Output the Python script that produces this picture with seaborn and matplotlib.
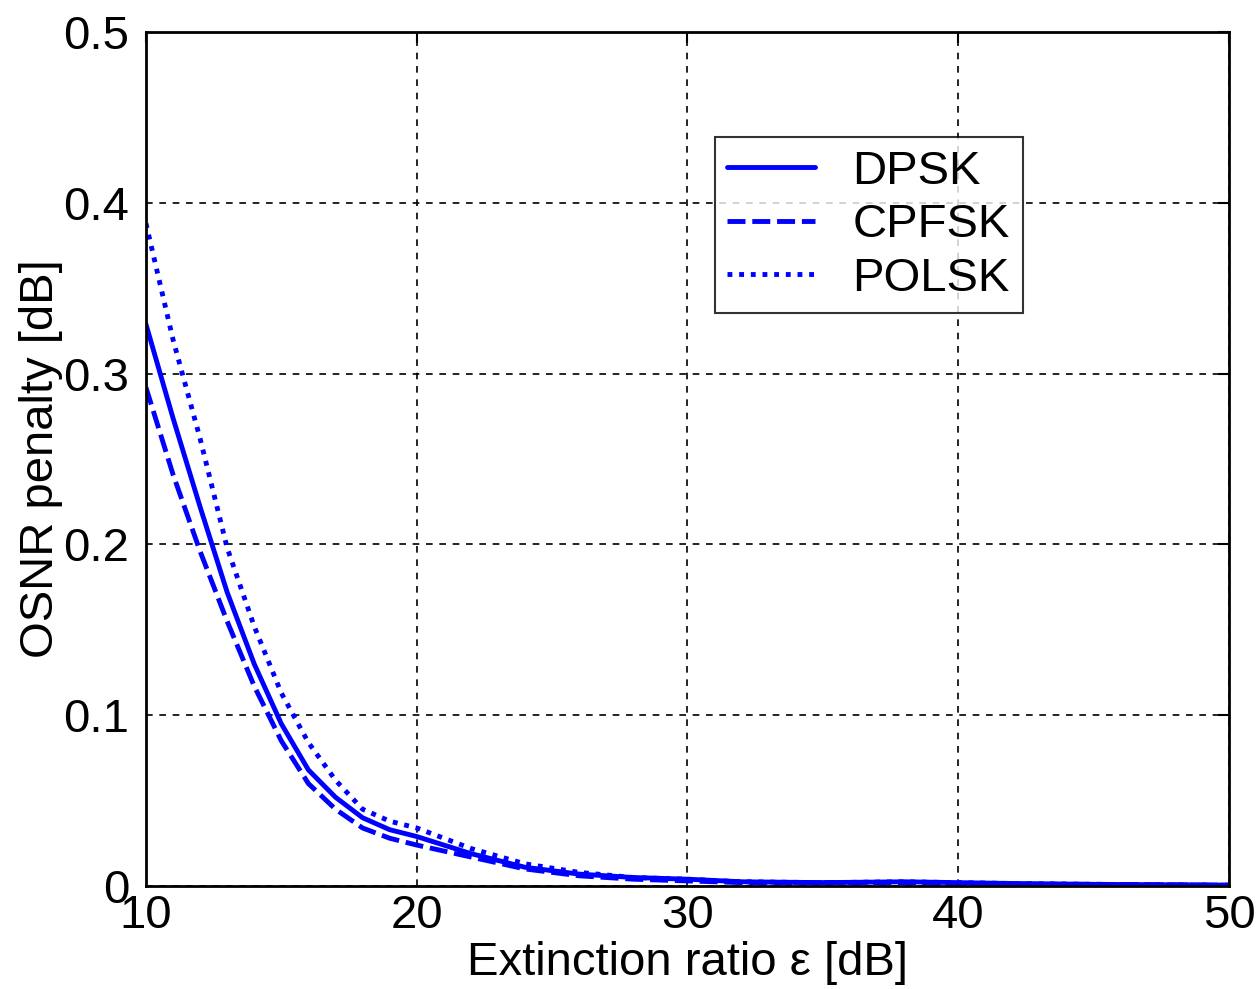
import matplotlib
matplotlib.use("Agg")
import matplotlib.pyplot as plt
import seaborn as sns
import pandas as pd

# Data
extinction_db = [10, 11, 12, 13, 14, 15, 16, 17, 18, 19, 20, 22, 24, 26, 28, 30, 32, 35, 38, 40, 42, 45, 50]
dpsk = [0.329, 0.274, 0.222, 0.172, 0.130, 0.095, 0.068, 0.052, 0.040, 0.033, 0.029, 0.019, 0.011, 0.007,
        0.005, 0.004, 0.0025, 0.002, 0.0025, 0.002, 0.0015, 0.001, 0.0005]
cpfsk = [0.292, 0.241, 0.196, 0.155, 0.117, 0.085, 0.060, 0.045, 0.034, 0.028, 0.024, 0.017, 0.010, 0.006,
         0.004, 0.003, 0.002, 0.002, 0.002, 0.0015, 0.001, 0.001, 0.0005]
polsk = [0.388, 0.320, 0.262, 0.198, 0.152, 0.113, 0.084, 0.062, 0.045, 0.038, 0.034, 0.022, 0.013, 0.008,
         0.005, 0.004, 0.0025, 0.002, 0.0025, 0.002, 0.0015, 0.001, 0.0005]
series_names = ["DPSK", "CPFSK", "POLSK"]
x_ticks = [10, 20, 30, 40, 50]
y_ticks = [0, 0.1, 0.2, 0.3, 0.4, 0.5]
y_tick_labels = ["0", "0.1", "0.2", "0.3", "0.4", "0.5"]

df = pd.DataFrame({
    "x": extinction_db * 3,
    "y": dpsk + cpfsk + polsk,
    "series": [series_names[0]] * len(extinction_db) + [series_names[1]] * len(extinction_db)
              + [series_names[2]] * len(extinction_db),
})

sns.set_style("white")
plt.rcParams["font.family"] = ["Liberation Sans", "DejaVu Sans"]
plt.rcParams["text.color"] = "black"
plt.rcParams["axes.labelcolor"] = "black"

fig = plt.figure(figsize=(12.58, 9.89), dpi=100)
ax = fig.add_axes([0.116, 0.1041, 0.861, 0.8635])

dash_styles = {"DPSK": "", "CPFSK": (3.7, 1.4), "POLSK": (1.0, 1.4)}
sns.lineplot(data=df, x="x", y="y", style="series", dashes=dash_styles,
             color="#0000ff", linewidth=3.5, ax=ax, legend=True, sort=False)

ax.set_xlim(10, 50)
ax.set_ylim(0, 0.5)
ax.set_xticks(x_ticks)
ax.set_yticks(y_ticks)
ax.set_yticklabels(y_tick_labels)
ax.tick_params(axis="both", direction="in", length=8, width=1.5, labelsize=34,
               top=True, right=True, colors="black")
ax.tick_params(axis="x", pad=6)
ax.tick_params(axis="y", pad=12)
ax.grid(True, color="black", linestyle=(0, (4, 4)), linewidth=1.2)
for s in ax.spines.values():
    s.set_visible(True)
    s.set_color("black")
    s.set_linewidth(2)

ax.set_xlabel("Extinction ratio ε [dB]", fontsize=34, labelpad=2)
ax.set_ylabel("OSNR penalty [dB]", fontsize=34, labelpad=0)

leg = ax.legend(loc="upper left", bbox_to_anchor=(0.525, 0.877), borderaxespad=0,
                fontsize=34, frameon=True, fancybox=False, edgecolor="black",
                handlelength=1.85, handletextpad=0.8, labelspacing=0.2,
                borderpad=0.27, title=None)
leg.get_frame().set_linewidth(1.5)
for t in leg.get_texts():
    t.set_color("black")
for h in leg.get_lines():
    h.set_linewidth(3.5)
    h.set_color("#0000ff")

fig.savefig("out.png", dpi=100)
